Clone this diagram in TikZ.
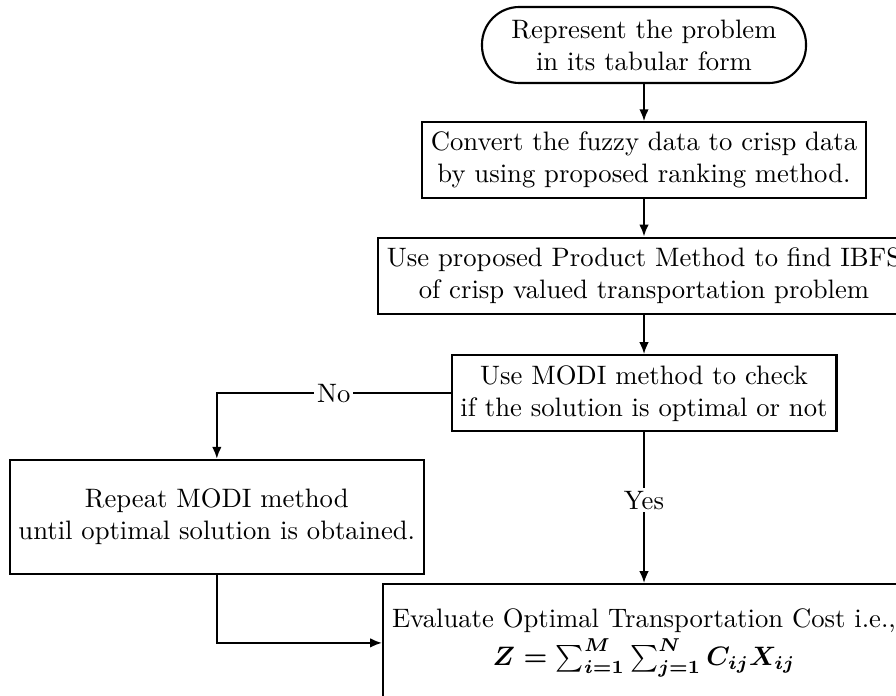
\documentclass[tikz,border=0pt]{standalone}
\usepackage{amsmath}
\usepackage{tikz}
\usetikzlibrary{positioning, shapes.geometric, arrows.meta}
\usetikzlibrary{calc}
\tikzstyle{startstop} = [rectangle, rounded corners=14pt, minimum width=121.5pt, minimum height=28.5pt, text centered, draw=black, thick]
\tikzstyle{process} = [rectangle, minimum height=28.5pt, text centered, draw=black, thick]
\tikzstyle{answer} = [fill=white, inner sep=1pt]
\tikzstyle{arrow} = [thick,-{Latex[length=4.5pt,width=3.6pt]}]
\tikzstyle{every node}=[font=\normalsize]

\begin{document}
\begin{tikzpicture}[node distance=1.52cm,]
		\useasboundingbox (-241.5pt,16.875pt) rectangle (94.5pt,-243.75pt);
		\clip (-241.5pt,16.875pt) rectangle (94.5pt,-243.75pt);
		\node (start) [startstop, align=center] {Represent the problem\\in its tabular form};
		\node (pro1) [process, below of=start, align=center] {Convert the fuzzy data to crisp data\\by using proposed ranking method.};
		\node (pro2) [process, below of=pro1, align=center] {Use proposed Product Method to find IBFS\\of crisp valued transportation problem};
		
		\node (dec1) [process, below of=pro2, yshift=-0.03cm, align=center] {Use MODI method to check\\if the solution is optimal or not};
		\node (pro3) [process, left of=dec1, xshift=-4.11cm, yshift=-1.63cm, minimum height=42.75pt, align=center] {Repeat MODI method\\until optimal solution is obtained.};
		\node (stop1) [process, below of=dec1, yshift=-1.77cm, minimum height=44pt, align=center] {Evaluate Optimal Transportation Cost i.e.,\\[2pt]$\boldsymbol{Z=\sum_{i=1}^{M}\sum_{j=1}^{N}C_{ij}X_{ij}}$};
		
		%连接具体形状
		\draw [arrow](start) -- (pro1);
		\draw [arrow](pro1) -- (pro2);
		\draw [arrow](pro2) -- (dec1);
		\draw [arrow](dec1.west) -| node[answer, pos=0.25]{No} (pro3.north);
		\draw [arrow](dec1.south) -- node[answer, pos=0.45]{Yes} (stop1.north);
		\draw [arrow](pro3.south) |- (stop1.west);
		
	\end{tikzpicture}
\end{document}
